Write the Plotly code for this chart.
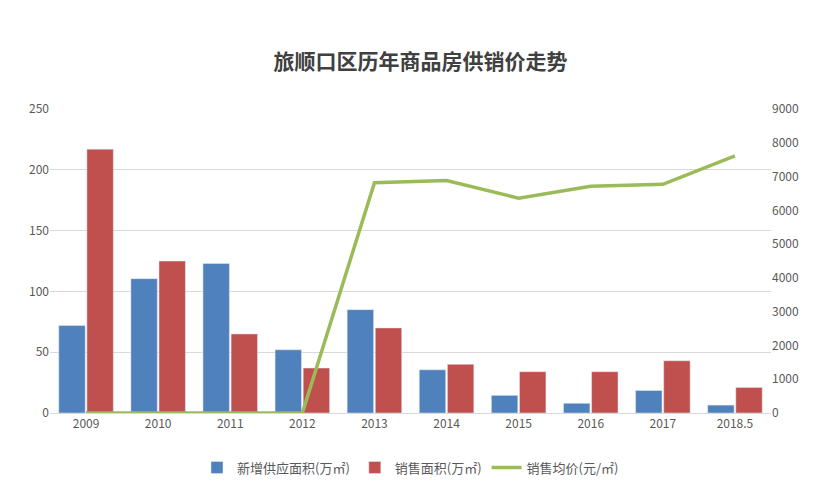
import plotly.graph_objects as go

years = ["2009","2010","2011","2012","2013","2014","2015","2016","2017","2018.5"]
supply = [72, 110.5, 123, 52, 85, 35.5, 14.5, 8, 18.5, 6.5]
sales = [217, 125, 65, 37, 70, 40, 34, 34, 43, 21]
price = [0, 0, 0, 0, 6820, 6880, 6360, 6710, 6770, 7610]

fig = go.Figure()
fig.add_bar(x=years, y=supply, name="新增供应面积(万㎡)", marker_color="#4F81BD")
fig.add_bar(x=years, y=sales, name="销售面积(万㎡)", marker_color="#C0504D")
fig.add_scatter(x=years, y=price, name="销售均价(元/㎡)", mode="lines",
                line=dict(color="#9BBB59", width=3.5), yaxis="y2")

fig.update_layout(
    width=825, height=487, paper_bgcolor="white", plot_bgcolor="white",
    margin=dict(l=42, r=62, t=101, b=76),
    title=dict(text="<b>旅顺口区历年商品房供销价走势</b>", x=0.5, y=0.905, xanchor="center",
               font=dict(size=21, color="#404040", family="Noto Sans CJK SC")),
    font=dict(family="Noto Sans CJK SC", size=12, color="#595959"),
    barmode="group", bargap=0.22, bargroupgap=0.06,
    xaxis=dict(showline=True, linecolor="#D9D9D9", ticks=""),
    yaxis=dict(range=[0, 250], dtick=50, gridcolor="#D9D9D9", zeroline=False),
    yaxis2=dict(range=[0, 9000], dtick=1000, overlaying="y", side="right",
                showgrid=False, zeroline=False),
    legend=dict(orientation="h", x=0.5, xanchor="center", y=-0.13, yanchor="top",
                font=dict(size=13)),
)
fig.write_html("out.html")
